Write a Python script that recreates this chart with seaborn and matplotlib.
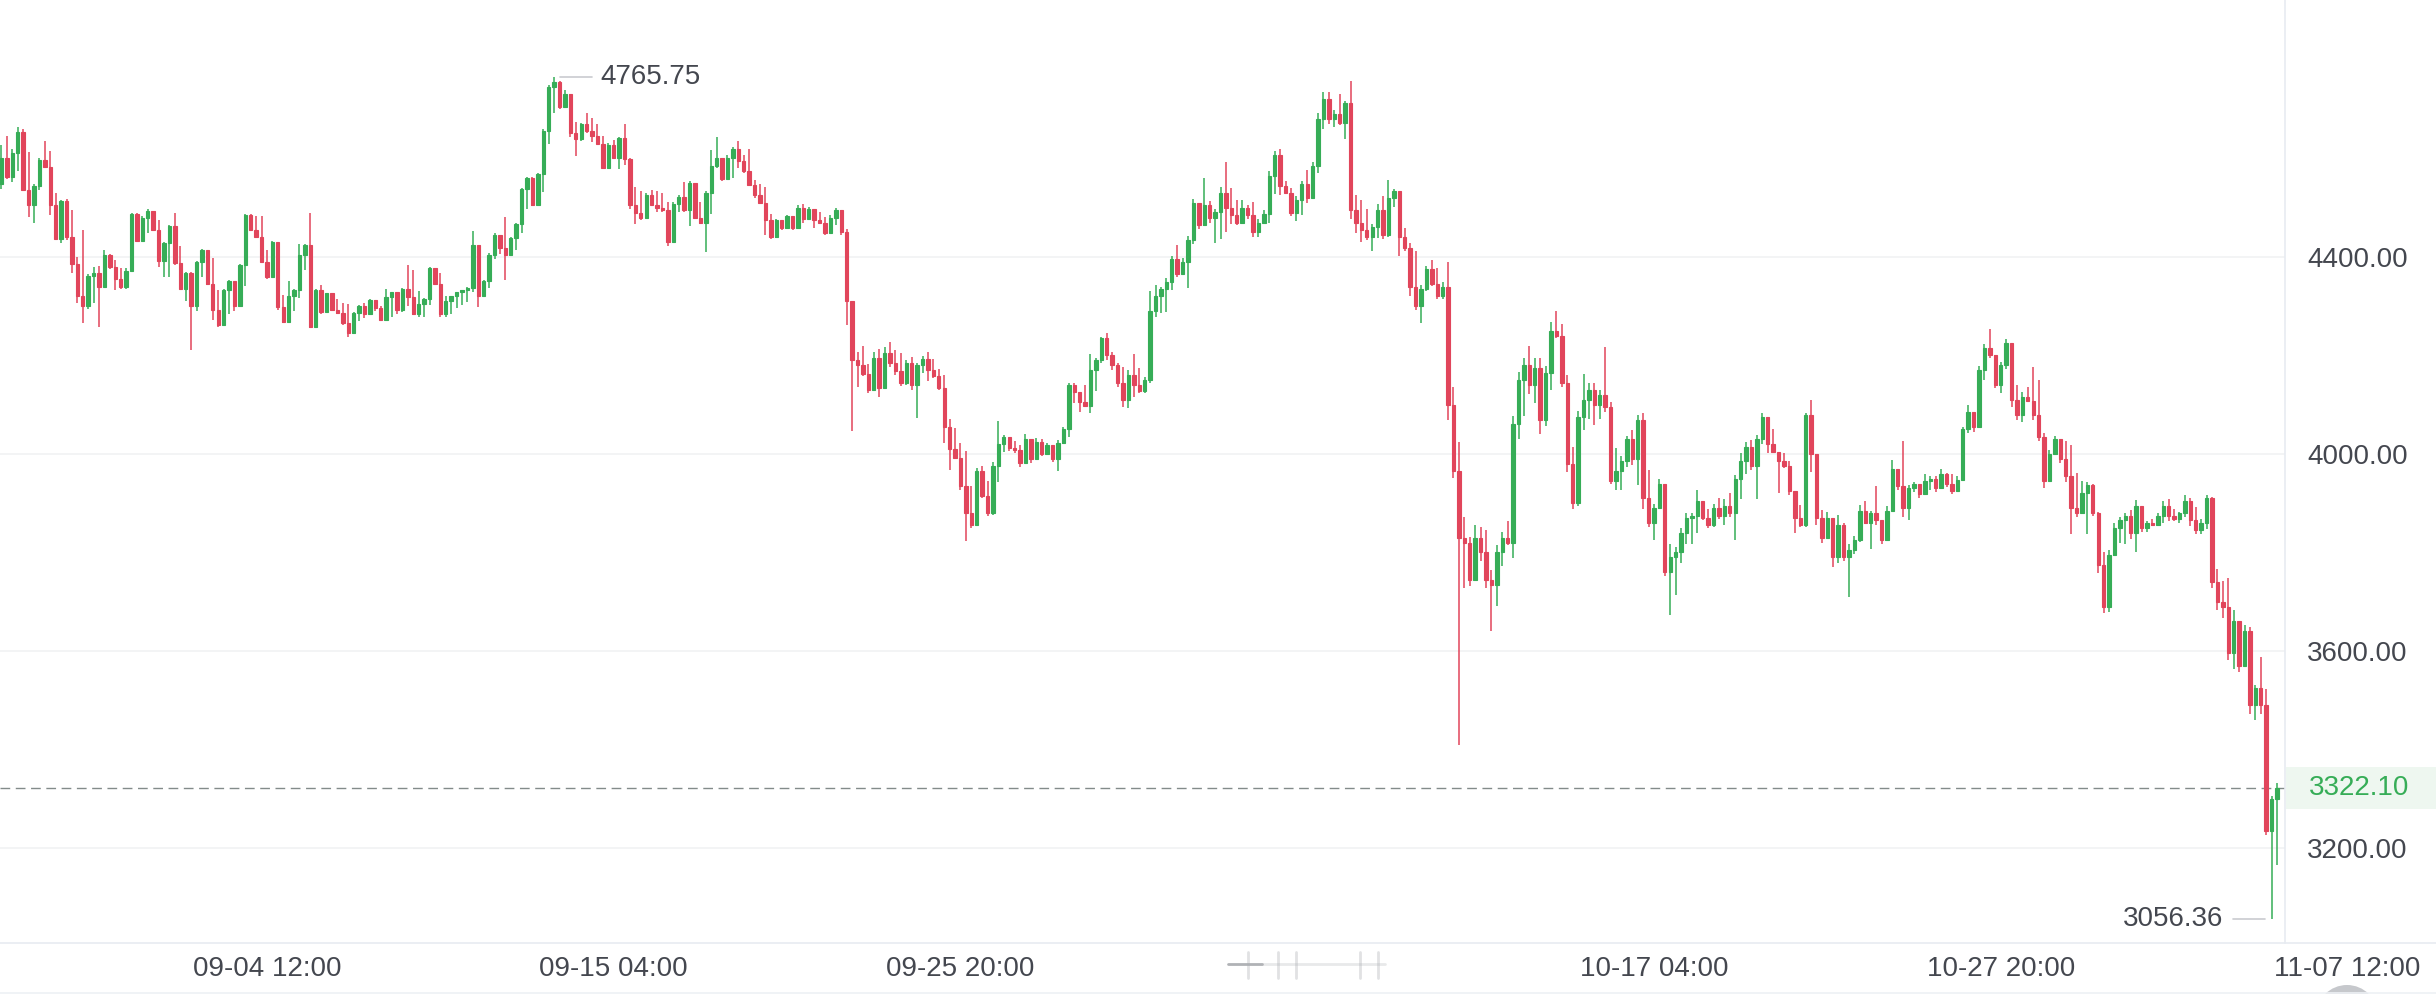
import numpy as np
import pandas as pd
import matplotlib
matplotlib.use("Agg")
import matplotlib.pyplot as plt
import matplotlib.dates as mdates
from matplotlib.lines import Line2D
from matplotlib.patches import Rectangle, Ellipse
import seaborn as sns

# ---------------- data (4h candles, ETH/USDT) ----------------
start_time = "2025-08-27 08:00"
first_open = 4548

close = [
    4600, 4562, 4612, 4654, 4537, 4505, 4545, 4597, 4583, 4505,
    4437, 4513, 4440, 4385, 4320, 4300, 4362, 4368, 4340, 4404,
    4380, 4355, 4340, 4372, 4488, 4433, 4480, 4494, 4455, 4392,
    4428, 4462, 4387, 4336, 4368, 4300, 4390, 4414, 4345, 4292,
    4262, 4332, 4352, 4300, 4383, 4485, 4455, 4441, 4390, 4360,
    4431, 4299, 4268, 4320, 4333, 4405, 4424, 4258, 4332, 4289,
    4326, 4293, 4287, 4265, 4245, 4286, 4301, 4285, 4312, 4296,
    4272, 4318, 4328, 4293, 4335, 4318, 4285, 4305, 4314, 4378,
    4345, 4285, 4310, 4320, 4328, 4332, 4338, 4425, 4320, 4352,
    4405, 4445, 4418, 4405, 4439, 4466, 4538, 4560, 4506, 4568,
    4655, 4745, 4755, 4705, 4730, 4651, 4640, 4670, 4655, 4645,
    4630, 4580, 4628, 4600, 4641, 4598, 4505, 4490, 4480, 4525,
    4505, 4500, 4495, 4430, 4508, 4522, 4495, 4550, 4480, 4470,
    4530, 4585, 4600, 4558, 4602, 4620, 4595, 4575, 4547, 4525,
    4510, 4475, 4440, 4476, 4458, 4484, 4458, 4500, 4478, 4497,
    4475, 4470, 4448, 4480, 4495, 4450, 4310, 4190, 4180, 4162,
    4130, 4195, 4135, 4205, 4185, 4168, 4145, 4185, 4140, 4180,
    4192, 4170, 4158, 4135, 4055, 4010, 3992, 3935, 3880, 3855,
    3965, 3915, 3880, 3975, 4020, 4035, 4012, 4008, 3982, 4030,
    3990, 4025, 4000, 4018, 3990, 4022, 4050, 4140, 4125, 4105,
    4098, 4170, 4190, 4235, 4200, 4180, 4145, 4110, 4160, 4140,
    4128, 4150, 4290, 4320, 4335, 4350, 4395, 4365, 4390, 4435,
    4510, 4465, 4505, 4480, 4492, 4530, 4500, 4485, 4470, 4500,
    4485, 4450, 4470, 4488, 4565, 4608, 4545, 4530, 4490, 4515,
    4548, 4520, 4585, 4680, 4720, 4680, 4690, 4672, 4712, 4495,
    4470, 4455, 4440, 4460, 4495, 4445, 4520, 4535, 4440, 4418,
    4340, 4300, 4335, 4375, 4345, 4320, 4340, 4100, 3965, 3830,
    3820, 3745, 3830, 3800, 3745, 3735, 3800, 3830, 3820, 4060,
    4150, 4180, 4140, 4175, 4070, 4165, 4250, 4240, 4145, 3980,
    3900, 4075, 4110, 4130, 4100, 4120, 4095, 3945, 3965, 3985,
    4030, 3990, 4070, 3910, 3860, 3890, 3940, 3760, 3790, 3800,
    3840, 3870, 3875, 3905, 3870, 3855, 3890, 3875, 3895, 3880,
    3950, 3985, 4015, 3975, 4030, 4075, 4020, 4005, 3985, 3975,
    3925, 3870, 3855, 4080, 4000, 3870, 3830, 3870, 3790, 3855,
    3790, 3805, 3825, 3885, 3860, 3880, 3865, 3825, 3885, 3970,
    3935, 3890, 3930, 3940, 3918, 3945, 3950, 3930, 3960, 3940,
    3925, 3948, 4050, 4085, 4055, 4170, 4215, 4200, 4140, 4180,
    4225, 4110, 4080, 4115, 4108, 4080, 4035, 3945, 4000, 4030,
    3990, 3955, 3890, 3880, 3920, 3938, 3880, 3775, 3690, 3795,
    3850, 3865, 3875, 3840, 3895, 3850, 3860, 3855, 3875, 3895,
    3875, 3868, 3880, 3905, 3865, 3845, 3860, 3910, 3740, 3700,
    3690, 3595, 3660, 3570, 3640, 3490, 3525, 3490, 3235, 3300,
    3322.10,
]

high = [
    4627, 4645, 4619, 4664, 4659, 4614, 4548, 4600, 4635, 4616,
    4529, 4515, 4517, 4496, 4399, 4455, 4366, 4380, 4381, 4414,
    4407, 4393, 4377, 4377, 4490, 4490, 4484, 4497, 4490, 4476,
    4431, 4464, 4490, 4423, 4370, 4370, 4392, 4416, 4407, 4397,
    4332, 4334, 4354, 4343, 4385, 4487, 4488, 4484, 4484, 4414,
    4433, 4429, 4323, 4352, 4335, 4427, 4426, 4490, 4334, 4343,
    4327, 4321, 4314, 4307, 4304, 4289, 4302, 4307, 4314, 4312,
    4301, 4336, 4329, 4312, 4337, 4383, 4373, 4331, 4316, 4380,
    4365, 4368, 4320, 4321, 4329, 4333, 4340, 4452, 4409, 4354,
    4409, 4449, 4442, 4482, 4441, 4469, 4540, 4563, 4562, 4571,
    4659, 4749, 4765.75, 4758, 4739, 4730, 4675, 4672, 4693, 4683,
    4670, 4645, 4631, 4637, 4643, 4670, 4600, 4542, 4534, 4530,
    4537, 4534, 4530, 4512, 4512, 4526, 4553, 4554, 4546, 4512,
    4534, 4617, 4643, 4600, 4607, 4624, 4636, 4607, 4620, 4557,
    4549, 4542, 4488, 4478, 4475, 4485, 4483, 4505, 4508, 4502,
    4490, 4492, 4481, 4485, 4499, 4496, 4456, 4311, 4207, 4219,
    4183, 4207, 4213, 4217, 4228, 4211, 4206, 4191, 4196, 4184,
    4198, 4207, 4192, 4172, 4160, 4071, 4052, 4023, 4006, 3935,
    3971, 3976, 3945, 3984, 4068, 4039, 4033, 4027, 4018, 4040,
    4022, 4033, 4031, 4022, 4016, 4028, 4054, 4144, 4144, 4123,
    4140, 4204, 4194, 4238, 4245, 4207, 4184, 4176, 4171, 4203,
    4175, 4157, 4330, 4343, 4340, 4357, 4401, 4425, 4397, 4443,
    4517, 4497, 4560, 4513, 4497, 4542, 4592, 4541, 4516, 4516,
    4505, 4512, 4477, 4495, 4575, 4616, 4619, 4555, 4541, 4523,
    4555, 4577, 4593, 4693, 4734, 4736, 4698, 4731, 4716, 4757,
    4525, 4516, 4498, 4466, 4507, 4523, 4557, 4539, 4530, 4459,
    4428, 4412, 4344, 4382, 4394, 4378, 4349, 4389, 4136, 4024,
    3873, 3832, 3855, 3852, 3846, 3764, 3816, 3841, 3864, 4077,
    4167, 4195, 4219, 4195, 4195, 4178, 4269, 4290, 4263, 4160,
    4015, 4088, 4163, 4145, 4145, 4130, 4218, 4106, 4013, 3996,
    4036, 4048, 4079, 4084, 3967, 3898, 3950, 3935, 3817, 3811,
    3849, 3881, 3881, 3927, 3905, 3889, 3898, 3910, 3908, 3920,
    3957, 4001, 4025, 4028, 4038, 4084, 4070, 4050, 4004, 4002,
    3986, 3923, 3896, 4084, 4109, 4000, 3886, 3883, 3869, 3876,
    3860, 3817, 3833, 3896, 3905, 3885, 3935, 3860, 3894, 3987,
    3967, 4027, 3937, 3944, 3937, 3959, 3955, 3955, 3969, 3962,
    3960, 3955, 4054, 4099, 4079, 4178, 4224, 4253, 4201, 4187,
    4233, 4196, 4141, 4126, 4136, 4176, 4150, 4043, 4009, 4036,
    4027, 4027, 4018, 3962, 3946, 3943, 3940, 3883, 3801, 3805,
    3859, 3872, 3881, 3886, 3906, 3892, 3863, 3868, 3880, 3904,
    3908, 3889, 3883, 3917, 3910, 3892, 3868, 3917, 3913, 3766,
    3742, 3748, 3684, 3637, 3652, 3648, 3531, 3587, 3522, 3306,
    3332,
]

low = [
    4539, 4559, 4553, 4575, 4534, 4482, 4468, 4536, 4580, 4485,
    4434, 4428, 4434, 4368, 4306, 4266, 4295, 4306, 4257, 4340,
    4376, 4333, 4334, 4334, 4372, 4430, 4440, 4449, 4453, 4379,
    4360, 4359, 4383, 4335, 4310, 4211, 4291, 4360, 4343, 4272,
    4258, 4266, 4284, 4290, 4300, 4341, 4453, 4438, 4388, 4356,
    4366, 4293, 4265, 4273, 4291, 4316, 4374, 4255, 4272, 4285,
    4302, 4291, 4285, 4262, 4237, 4252, 4270, 4277, 4290, 4291,
    4270, 4279, 4278, 4285, 4289, 4300, 4282, 4278, 4278, 4302,
    4343, 4278, 4278, 4285, 4296, 4302, 4309, 4329, 4299, 4319,
    4338, 4395, 4406, 4353, 4410, 4414, 4449, 4498, 4503, 4503,
    4532, 4629, 4693, 4701, 4708, 4643, 4605, 4636, 4652, 4634,
    4629, 4578, 4580, 4598, 4579, 4587, 4498, 4466, 4475, 4488,
    4503, 4492, 4492, 4423, 4446, 4492, 4492, 4463, 4478, 4467,
    4410, 4487, 4580, 4554, 4566, 4560, 4580, 4570, 4544, 4519,
    4508, 4444, 4436, 4438, 4455, 4463, 4455, 4465, 4470, 4479,
    4458, 4468, 4445, 4460, 4465, 4445, 4262, 4047, 4137, 4158,
    4123, 4133, 4115, 4154, 4177, 4161, 4138, 4140, 4130, 4074,
    4164, 4148, 4154, 4130, 4022, 3968, 3989, 3927, 3824, 3849,
    3867, 3910, 3874, 3876, 3944, 4005, 4007, 4003, 3974, 3995,
    3981, 4001, 3995, 3997, 3984, 3966, 4020, 4035, 4103, 4086,
    4095, 4083, 4127, 4184, 4190, 4171, 4137, 4096, 4093, 4116,
    4123, 4123, 4144, 4279, 4286, 4289, 4332, 4360, 4370, 4337,
    4427, 4456, 4462, 4470, 4429, 4436, 4450, 4466, 4465, 4478,
    4478, 4441, 4441, 4466, 4468, 4528, 4525, 4528, 4483, 4474,
    4486, 4510, 4532, 4571, 4659, 4670, 4664, 4668, 4639, 4477,
    4448, 4430, 4435, 4412, 4439, 4437, 4441, 4501, 4403, 4412,
    4320, 4292, 4265, 4330, 4341, 4314, 4314, 4069, 3952, 3410,
    3728, 3732, 3749, 3782, 3728, 3640, 3691, 3773, 3816, 3788,
    4031, 4077, 4122, 4104, 4040, 4056, 4129, 4235, 4136, 3963,
    3889, 3895, 4048, 4072, 4059, 4072, 4086, 3940, 3927, 3927,
    3974, 3977, 3937, 3889, 3852, 3825, 3889, 3752, 3673, 3713,
    3778, 3818, 3818, 3840, 3866, 3849, 3852, 3869, 3856, 3872,
    3826, 3908, 3959, 3967, 3908, 4021, 4002, 4002, 3921, 3971,
    3916, 3840, 3851, 3852, 3964, 3856, 3820, 3835, 3770, 3778,
    3783, 3709, 3797, 3822, 3857, 3808, 3856, 3818, 3845, 3886,
    3927, 3872, 3866, 3923, 3910, 3920, 3927, 3923, 3930, 3933,
    3918, 3928, 3948, 4042, 4045, 4054, 4150, 4194, 4133, 4123,
    4172, 4096, 4069, 4065, 4106, 4070, 4027, 3931, 3964, 4003,
    3982, 3943, 3838, 3872, 3890, 3838, 3874, 3758, 3677, 3679,
    3793, 3819, 3817, 3828, 3802, 3841, 3841, 3853, 3856, 3859,
    3863, 3863, 3859, 3872, 3853, 3838, 3838, 3847, 3727, 3684,
    3668, 3581, 3563, 3558, 3567, 3473, 3459, 3473, 3226, 3056.36,
    3165,
]

y_ticks = [3200, 3600, 4000, 4400]
x_tick_times = ["2025-09-04 12:00", "2025-09-15 04:00", "2025-09-25 20:00",
                "2025-10-17 04:00", "2025-10-27 20:00"]
x_tick_labels = ["09-04 12:00", "09-15 04:00", "09-25 20:00",
                 "10-17 04:00", "10-27 20:00"]
last_tick_time = "2025-11-07 12:00"
last_tick_label = "11-07 12:00"
last_price = 3322.10

# ---------------- style ----------------
sns.set_theme(style="white")
plt.rcParams['font.family'] = ['Liberation Sans', 'DejaVu Sans']

GREEN = "#36ad57"
RED = "#e1455b"
TXT = "#44474f"
LINE = "#e7ebf1"

W, H = 2436, 994
fig = plt.figure(figsize=(W / 100, H / 100), dpi=100)
fig.patch.set_facecolor("white")
ax_right_px = 2285
ax_bottom_px = 943

# price label box (behind everything)
fig.add_artist(Rectangle((2286 / W, (H - 809) / H), (W - 2286) / W, 42 / H,
                         transform=fig.transFigure, facecolor="#eef7f0",
                         edgecolor="none", zorder=-5))

ax = fig.add_axes([0, (H - ax_bottom_px) / H, ax_right_px / W, ax_bottom_px / H])
ax.patch.set_alpha(0)

df = pd.DataFrame({
    "time": pd.date_range(start_time, periods=len(close), freq="4h"),
    "close": close, "high": high, "low": low,
})
df["open"] = [first_open] + close[:-1]
x = mdates.date2num(df["time"])
o = df["open"].to_numpy(float)
c = df["close"].to_numpy(float)
up = c >= o
colors = np.where(up, GREEN, RED)

# wicks
ax.vlines(x, df["low"], df["high"], colors=colors, linewidth=1.1, zorder=3)
# bodies
body_w = 2.5 / 24.0
ax.bar(x, np.abs(c - o), bottom=np.minimum(o, c), width=body_w, color=colors,
       edgecolor=colors, linewidth=0.8, zorder=4)

x_min = x[0] - 1.1 / 24
x_max = x[-1] + 5.9 / 24
ax.set_xlim(x_min, x_max)
ax.set_ylim(3007.1, 4921.8)
days_per_px = (x_max - x_min) / ax_right_px

# grid + axes
ax.set_yticks(y_ticks)
ax.set_yticklabels([f"{v:.2f}" for v in y_ticks])
ax.yaxis.tick_right()
ax.yaxis.grid(True, color="#f1f2f4", linewidth=1.2)
ax.xaxis.grid(False)
ax.set_xticks(mdates.date2num(pd.to_datetime(x_tick_times)))
ax.set_xticklabels(x_tick_labels)
ax.tick_params(axis="y", length=0, pad=16, labelsize=20, labelcolor=TXT)
ax.tick_params(axis="x", length=0, pad=9, labelsize=20, labelcolor=TXT)
for s in ["top", "left", "bottom"]:
    ax.spines[s].set_visible(False)
ax.spines["right"].set_color(LINE)
ax.spines["right"].set_linewidth(1.2)

# last x label, outside the plotting area
x_last = mdates.date2num(pd.Timestamp(last_tick_time))
ax.text(x_last, -0.0275, last_tick_label, transform=ax.get_xaxis_transform(),
        ha="center", va="center", fontsize=20, color=TXT, clip_on=False)

# horizontal frame lines
fig.add_artist(Line2D([0, 1], [(H - ax_bottom_px) / H] * 2, transform=fig.transFigure,
                      color=LINE, linewidth=1.2))
fig.add_artist(Line2D([0, 1], [(H - 993) / H] * 2, transform=fig.transFigure,
                      color="#eef1f5", linewidth=1.2))

# current price dashed line + label
ax.axhline(last_price, color="#838b8a", linewidth=1.0, linestyle=(0, (7, 4)), zorder=2)
ax.text(1.0 + 24 / ax_right_px, last_price, f"{last_price:.2f}",
        transform=ax.get_yaxis_transform(), ha="left", va="center",
        fontsize=20, color=GREEN, clip_on=False, zorder=10)

# max / min annotations
imax = int(np.argmax(df["high"]))
imin = int(np.argmin(df["low"]))
hv = df["high"][imax]
lv = df["low"][imin]
ax.plot([x[imax] + 6 * days_per_px, x[imax] + 38 * days_per_px], [hv, hv],
        color="#c9cbcf", linewidth=1.2, zorder=5)
ax.text(x[imax] + 46 * days_per_px, hv, f"{hv:.2f}", ha="left", va="center",
        fontsize=20, color=TXT)
ax.plot([x[imin] - 39 * days_per_px, x[imin] - 7 * days_per_px], [lv, lv],
        color="#c9cbcf", linewidth=1.2, zorder=5)
ax.text(x[imin] - 48 * days_per_px, lv, f"{lv:.2f}", ha="right", va="center",
        fontsize=20, color=TXT)

# blurred label smudge near 10-06 and UI button at the bottom right
yb = (H - 964) / H
fig.add_artist(Line2D([1228 / W, 1262 / W], [yb, yb], transform=fig.transFigure,
                      color="#8f9297", linewidth=2.0, alpha=0.7))
fig.add_artist(Line2D([1262 / W, 1385 / W], [yb, yb], transform=fig.transFigure,
                      color="#b5b8bc", linewidth=2.0, alpha=0.3))
for xv in [1248, 1278, 1296, 1360, 1378]:
    fig.add_artist(Line2D([xv / W, xv / W], [(H - 978) / H, (H - 952) / H],
                          transform=fig.transFigure, color="#a9acb1",
                          linewidth=2.0, alpha=0.35))
fig.add_artist(Ellipse((2347 / W, (H - 1016) / H), 62 / W, 62 / H,
                       transform=fig.transFigure, facecolor="#c6c8cc",
                       edgecolor="none"))

fig.savefig("out.png", dpi=100, facecolor="white")
